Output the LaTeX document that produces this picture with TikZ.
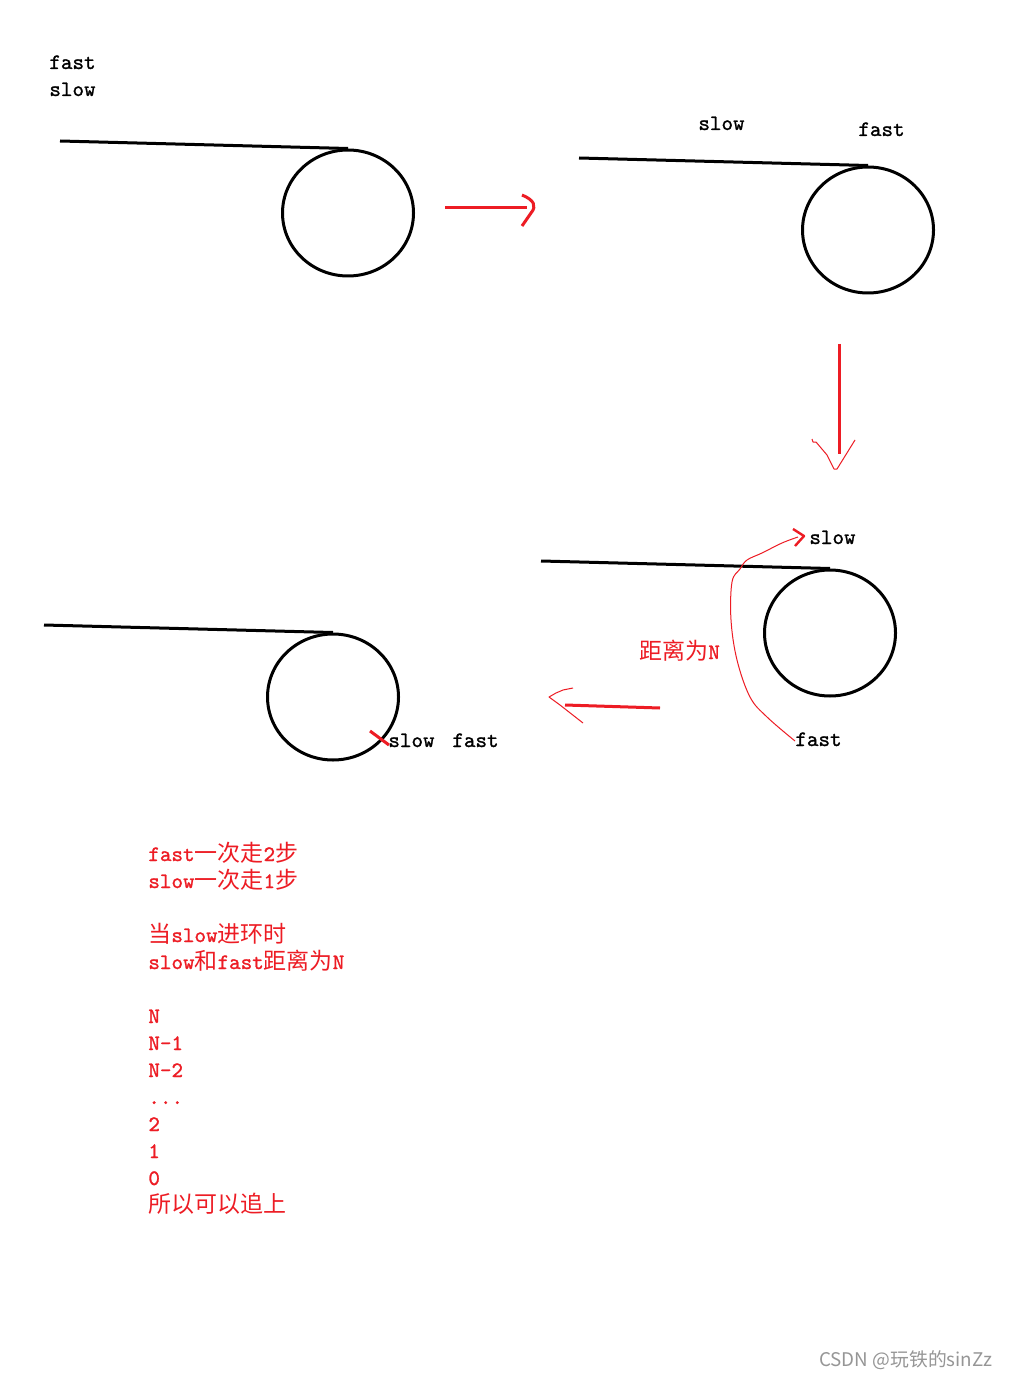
\documentclass[tikz,border=0pt]{standalone}
\usepackage{fontspec}
\newfontfamily\cjk[Scale=1.045]{Noto Sans CJK SC}
\newfontfamily\codefont[FakeBold=1.2]{Latin Modern Mono}
\usetikzlibrary{shapes.geometric}
\definecolor{paintred}{RGB}{237,28,36}
\definecolor{wmgray}{RGB}{150,150,150}
\newcommand{\zh}[1]{{\cjk #1}}
\newcommand{\dotrow}{...}
\tikzset{
  track/.style= {draw, line width=1.5pt},
  ring/.style= {draw, ellipse, line width=1.5pt, inner sep=0,
    minimum width=65.5pt, minimum height=63pt},
  tag/.style= {anchor=base west, inner sep=0,
    font=\fontsize{11}{13.5}\selectfont\codefont},
  redtext/.style= {tag, text=paintred},
  stroke/.style= {paintred, line width=1.5pt},
  pen/.style= {paintred, line width=0.5pt},
}

\begin{document}
\begin{tikzpicture}[x=0.5pt, y=-0.5pt, line join=round]
  \fill [white] (0,0) rectangle (1008,1379);
  \useasboundingbox (0,0) rectangle (1008,1379);

  % first: both at the start
  \node [tag] (fast1) at (49,69) {fast};
  \node [tag] (slow1) at (49,96) {slow};
  \node [ring] (ring1) at (348,213) {};
  \coordinate (start1) at (60,141);
  \draw [track] (start1) -- (ring1.north);

  \coordinate (go1a) at (445,208);
  \coordinate (go1b) at (527,208);
  \draw [stroke] (go1a) -- (go1b);
  \draw [stroke] (522,195) .. controls (534,200) and (537,206) .. (531,213) -- (522,226);

  % second: fast in the loop
  \node [tag] (slow2) at (698,130) {slow};
  \node [tag] (fast2) at (858,136) {fast};
  \node [ring] (ring2) at (868,230) {};
  \coordinate (start2) at (579,158);
  \draw [track] (start2) -- (ring2.north);

  \coordinate (go2a) at (839,344);
  \coordinate (go2b) at (839,454);
  \draw [stroke] (go2a) -- (go2b);
  \draw [pen] (812,439) -- (813,442) -- (816,442) -- (827,455) -- (834,469) -- (837,469) -- (855,440);

  % third: slow enters the loop
  \node [ring] (ring3) at (830,633) {};
  \coordinate (start3) at (541,561);
  \draw [track] (start3) -- (ring3.north);
  \node [tag] (slow3) at (809,544) {slow};
  \node [tag] (fast3) at (795,746) {fast};
  \node [redtext] (dist) at (639,659) {\zh{距离为}N};
  \draw [pen] (fast3.west) plot [smooth, tension=0.6] coordinates {
    (795,741) (767,717) (750,697) (737,660) (731,620) (732,582)
    (740,569) (747,560) (762,553) (782,543) (798,537)};
  \draw [stroke, line width=1.2pt] (793,529) -- (804,536) -- (795,546);

  \coordinate (go3a) at (660,708);
  \coordinate (go3b) at (565,705);
  \draw [stroke] (go3a) -- (go3b);
  \draw [pen] (573,688) -- (563,690) -- (556,693) -- (549,697) -- (560,705) -- (583,723);

  % fourth: fast catches slow
  \node [ring] (ring4) at (333,697) {};
  \coordinate (start4) at (44,625);
  \draw [track] (start4) -- (ring4.north);
  \node [tag] (slow4) at (388,747) {slow};
  \node [tag] (fast4) at (452,747) {fast};
  \draw [stroke] (370,731) -- (389,745);

  % the reasoning
  \foreach \y/\t in {861/fast\zh{一次走}2\zh{步}, 888/slow\zh{一次走}1\zh{步},
      942/\zh{当}slow\zh{进环时}, 969/slow\zh{和}fast\zh{距离为}N,
      1023/N, 1050/N-1, 1077/N-2, 1104/\dotrow, 1131/2, 1158/1, 1185/0,
      1212/\zh{所以可以追上}}
    \node [redtext] at (148,\y) {\t};

  \node [anchor=east, inner sep=0, text=wmgray,
    font=\cjk\fontsize{9}{11}\selectfont] (credit) at (993,1360) {CSDN @玩铁的sinZz};
\end{tikzpicture}
\end{document}
